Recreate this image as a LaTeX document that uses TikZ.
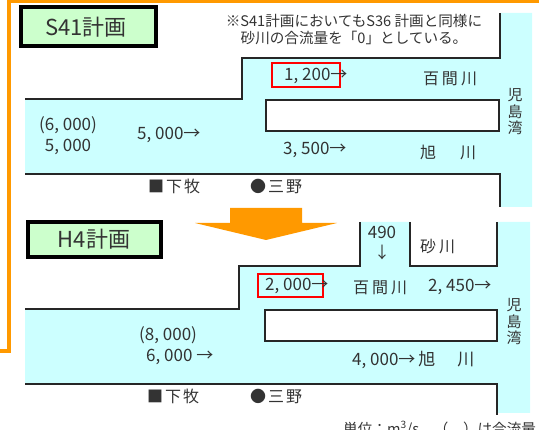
\documentclass[tikz,border=0pt]{standalone}
\usepackage{fontspec}
\setmainfont{Noto Sans CJK JP}
\definecolor{riv}{HTML}{CCFFFF}
\definecolor{ttl}{HTML}{CCFFCC}
\definecolor{org}{HTML}{FF9900}
\definecolor{txt}{HTML}{333333}
\newcommand{\kk}{\kern3pt}
\tikzset{
  bank/.style={line width=2.4pt, line join=miter, draw=black!85},
  island/.style={bank, fill=white},
  water/.style={fill=riv, draw=none},
  titlebox/.style={line width=3.5pt, draw=black, fill=ttl},
  ttltext/.style={inner sep=0pt, text=txt, font=\fontsize{22}{24}\selectfont},
  lbl/.style={inner sep=0pt, text=txt, font=\fontsize{16}{18}\selectfont},
  num/.style={inner sep=0pt, text=txt, font=\fontsize{17}{19}\selectfont},
  small/.style={inner sep=0pt, text=txt, font=\fontsize{14.6}{17}\selectfont},
  bay/.style={inner sep=0pt, text=txt, align=center, font=\fontsize{15}{16.5}\selectfont},
  redbox/.style={draw=red, line width=1.6pt},
  frame/.style={draw=org, line width=3.5pt}
}
\begin{document}
\begin{tikzpicture}[x=1pt,y=-1pt]
\useasboundingbox (0,0) rectangle (539,430);
\clip (0,0) rectangle (539,430);
% orange frame
\draw[frame] (545,1.5) -- (9,1.5) -- (9,351) -- (-5,351);
% ================= S41 panel =================
\fill[water] (25,99) -- (242,99) -- (242,58) -- (500,58) -- (500,13) -- (532,13)
  -- (532,207) -- (500,207) -- (500,174) -- (25,174) -- cycle;
\draw[bank] (25,99) -- (242,99) -- (242,58) -- (500,58) -- (500,13);
\draw[bank] (25,174) -- (500,174) -- (500,207);
\draw[island] (266,100) rectangle (499,131);
\draw[titlebox] (21,7) rectangle (156,46);
\node[ttltext] (t1) at (86,27) {S41計画};
\node[small] (n1) at (354,21) {※S41計画においてもS36 計画と同様に};
\node[small] (n2) at (354,38) {砂川の合流量を「0」としている。};
\draw[redbox] (272,63) rectangle (340,87);
\node[num, anchor=west] (a1) at (284,76) {1, 200→};
\node[lbl] (r1) at (450,79) {百\kk 間\kk 川};
\node[bay] (b1) at (515,112) {児\\島\\湾};
\node[num] (c1) at (68,125) {(6, 000)};
\node[num] (c2) at (68,147) {5, 000};
\node[num, anchor=west] (a2) at (137,135) {5, 000→};
\node[num, anchor=west] (a3) at (283,150) {3, 500→};
\node[lbl, anchor=west] (r2) at (420,152) {旭\kern24pt 川};
\node[lbl, anchor=west] (s1) at (148,186) {■\kern2pt 下\kern2pt 牧};
\node[lbl, anchor=west] (s2) at (250,186) {●\kern2pt 三\kern2pt 野};
% big arrow
\fill[org] (230,208) -- (302,208) -- (302,223) -- (337,223) -- (266,240) -- (195,223) -- (230,223) -- cycle;
% ================= H4 panel =================
\fill[water] (25,309) -- (239,309) -- (239,266) -- (360,266) -- (360,222) -- (410,222)
  -- (410,266) -- (497,266) -- (497,222) -- (530,222) -- (530,413) -- (497,413)
  -- (497,384) -- (25,384) -- cycle;
\draw[bank] (25,309) -- (239,309) -- (239,266) -- (360,266) -- (360,222);
\draw[bank] (410,222) -- (410,266) -- (497,266) -- (497,222);
\draw[bank] (25,384) -- (497,384) -- (497,415);
\draw[island] (265,310) rectangle (497,341);
\draw[titlebox] (28,222) rectangle (161,257);
\node[ttltext] (t2) at (94,239) {H4計画};
\node[num] (d1) at (382,232) {490};
\node[lbl] (d2) at (382,252) {↓};
\node[lbl, anchor=west] (r3) at (420,247) {砂\kk 川};
\draw[redbox] (258,274) rectangle (323,297);
\node[num, anchor=west] (a4) at (265,286) {2, 000→};
\node[lbl, anchor=west] (r4) at (353,288) {百\kk 間\kk 川};
\node[num, anchor=west] (a5) at (428,287) {2, 450→};
\node[bay] (b2) at (514,322) {児\\島\\湾};
\node[num, anchor=west] (c3) at (139,335) {(8, 000)};
\node[num, anchor=west] (c4) at (146,357) {6, 000 →};
\node[num, anchor=west] (a6) at (352,360) {4, 000→\kern3pt 旭\kern22pt 川};
\node[lbl, anchor=west] (s3) at (147,396) {■\kern2pt 下\kern2pt 牧};
\node[lbl, anchor=west] (s4) at (250,396) {●\kern2pt 三\kern2pt 野};
\node[small, anchor=west] (u1) at (343,429) {単位：m\textsuperscript{3}/s、（　）は合流量};
\end{tikzpicture}
\end{document}
